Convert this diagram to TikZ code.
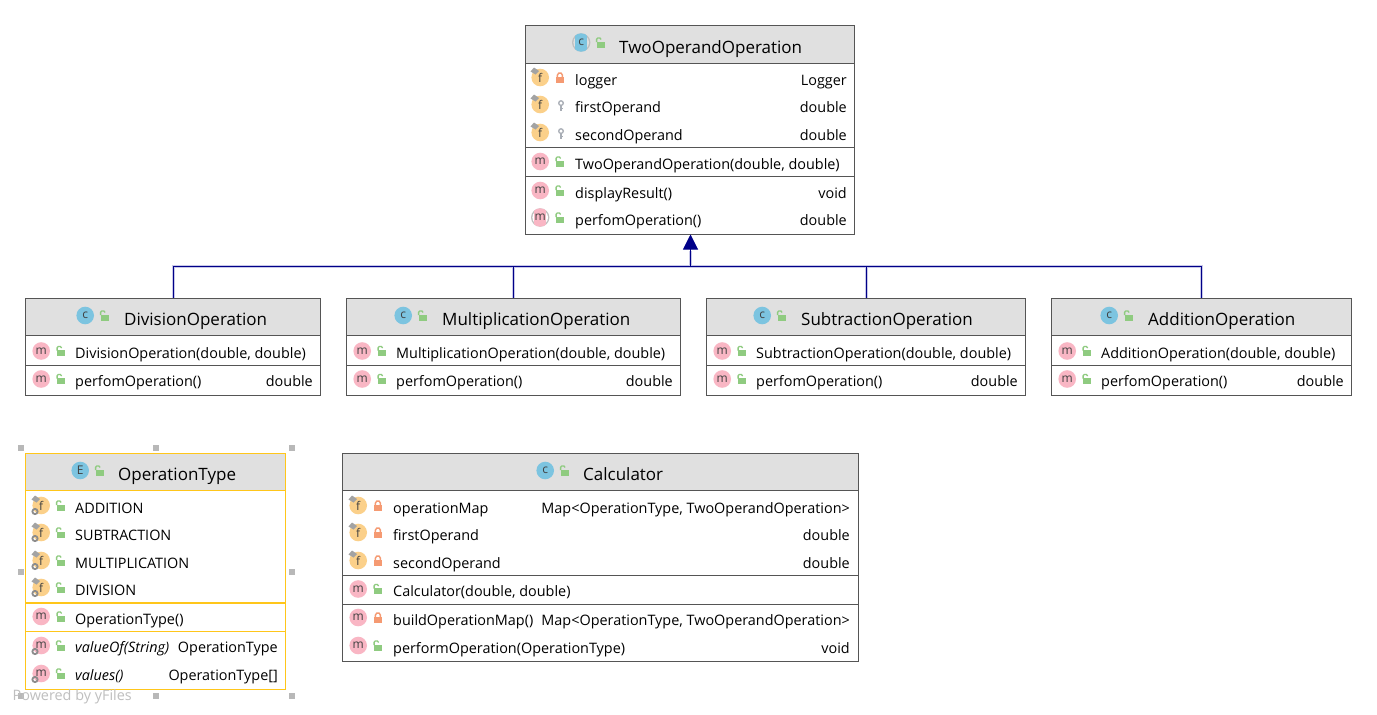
\documentclass[tikz,border=0pt]{standalone}
\usepackage{fontspec}
\setmainfont{Open Sans}
\usetikzlibrary{arrows.meta}
\definecolor{hdr}{HTML}{E0E0E0}
\definecolor{edge}{HTML}{555555}
\definecolor{sel}{HTML}{FFC61A}
\definecolor{icoC}{HTML}{7CC4E0}
\definecolor{icoF}{HTML}{FBD08A}
\definecolor{icoM}{HTML}{F9B6C4}
\definecolor{lockG}{HTML}{8FCB80}
\definecolor{lockR}{HTML}{F59A72}
\definecolor{keyG}{HTML}{A8ADB5}
\definecolor{navyline}{HTML}{000088}
\definecolor{halo}{HTML}{C8C8E8}
\newcounter{tn}
\tikzset{
 x=1pt,y=-1pt,
 classbox/.style={fill=none,line width=1pt,inner sep=0pt,outer sep=0pt},
 bodytxt/.style={inner sep=0pt,anchor=base west,font=\fontsize{14.4}{16}\selectfont,text=black},
 rtxt/.style={inner sep=0pt,anchor=base east,font=\fontsize{14.4}{16}\selectfont,text=black},
 headtxt/.style={inner sep=0pt,anchor=base west,font=\fontsize{17}{20}\selectfont,text=black},
 glyph/.style={inner sep=0pt,font=\fontsize{12}{12}\selectfont,text=black!75},
 handle/.style={fill=black!28,draw=none,minimum size=6pt,inner sep=0pt},
 connector/.style={navyline,line width=1pt},
 connhalo/.style={halo,line width=2.6pt},
}
% box: name, x1, y1, x2, y2, header bottom, colour
\newcommand{\umlbox}[7]{%
 \fill[hdr] (#2,#3) rectangle (#4,#6);
 \node[classbox,draw=#7,minimum width=#4pt-#2pt,minimum height=#5pt-#3pt] (#1) at ({(#2+#4)/2},{(#3+#5)/2}) {};
 \draw[#7,line width=1pt] (#2,#6) -- (#4,#6);
}
\newcommand{\sep}[4]{\draw[#4,line width=1pt] (#1,#3) -- (#2,#3);}
\newcommand{\openlock}[2]{%
 \fill[lockG] ({#1-3.4},{#2-1}) rectangle ({#1+4.8},{#2+5});
 \draw[lockG,line width=1.3pt] ({#1-3.4},{#2-0.5}) -- ({#1-3.4},{#2-3.2}) -- ({#1-2.2},{#2-4.6}) -- ({#1-0.2},{#2-4.6}) -- ({#1+1.2},{#2-3});
}
\newcommand{\closedlock}[2]{%
 \fill[lockR] ({#1-3.6},{#2-0.8}) rectangle ({#1+4.4},{#2+5});
 \draw[lockR,line width=1.4pt] ({#1-2.1},{#2-0.5}) -- ({#1-2.1},{#2-2.4}) -- ({#1-0.8},{#2-4.4}) -- ({#1+1.6},{#2-4.4}) -- ({#1+2.9},{#2-2.4}) -- ({#1+2.9},{#2-0.5});
}
\newcommand{\keyicon}[2]{%
 \draw[keyG,line width=1.3pt] (#1,{#2-2.4}) circle (2.3);
 \draw[keyG,line width=1.4pt] (#1,#2) -- (#1,{#2+5}) (#1,{#2+3}) -- ({#1+2},{#2+3});
}
\newcommand{\pin}[2]{\fill[black!36] ({#1-9},{#2-6}) -- ({#1-5.5},{#2-10}) -- ({#1-0.5},{#2-6.5}) -- ({#1-4},{#2-3}) -- cycle;}
\newcommand{\gear}[2]{\draw[black!45,line width=1.8pt] ({#1-5.5},{#2+6}) circle (2.6);}
\newcommand{\ico}[4]{% colour, letter, x, y
 \stepcounter{tn}%
 \fill[#1] ({#3+0.7},#4) circle (8.8);
 \node[glyph] (g\thetn) at ({#3+0.7},#4) {#2};
}
% abstract variant: gray crescents round a coloured middle band
\newcommand{\absico}[5]{% colour, inner ring colour, x, y, letter
 \stepcounter{tn}%
 \fill[gray!50] ({#3+0.7},#4) circle (9.2);
 \fill[#2] ({#3+0.7},#4) circle (7.8);
 \begin{scope}
  \clip ({#3+0.7},#4) circle (9.2);
  \fill[#1] ({#3-5.3},{#4-10}) rectangle ({#3+6.7},{#4+10});
 \end{scope}
 \node[glyph] (g\thetn) at ({#3+0.7},#4) {#5};
}
\newcommand{\txt}[3]{\stepcounter{tn}\node[bodytxt] (t\thetn) at ({#1+0.5},{#2+6}) {#3};}
\newcommand{\rtx}[3]{\stepcounter{tn}\node[rtxt] (t\thetn) at ({#1+0.5},{#2+6}) {#3};}
\newcommand{\head}[3]{\stepcounter{tn}\node[headtxt] (t\thetn) at ({#1+0.5},{#2+7}) {#3};}
% method row: icon x, icon y, text x, text
\newcommand{\mrow}[4]{\ico{icoM}{m}{#1}{#2}\openlock{#1+20}{#2}\txt{#3}{#2+1.5}{#4}}
% field rows
\newcommand{\frow}[4]{\ico{icoF}{f}{#1}{#2}\pin{#1}{#2}\closedlock{#1+20}{#2}\txt{#3}{#2+2}{#4}}
\newcommand{\krow}[4]{\ico{icoF}{f}{#1}{#2}\pin{#1}{#2}\keyicon{#1+21.5}{#2+1}\txt{#3}{#2+2}{#4}}
\newcommand{\erow}[2]{\ico{icoF}{f}{41}{#1}\pin{41}{#1}\gear{41}{#1}\openlock{60.5}{#1}\txt{75}{#1+2}{#2}}
% small subclass box
\newcommand{\subbox}[5]{% name, x1, x2, title, titlex
 \umlbox{#1}{#2}{298.5}{#3}{396}{336}{edge}
 \sep{#2}{#3}{366}{edge}
 \ico{icoC}{c}{#5-39}{316}
 \openlock{#5-19.5}{316}
 \head{#5}{319}{#4}
 \mrow{#2+15}{351.5}{#2+49}{#4(double, double)}
 \mrow{#2+15}{379.5}{#2+49}{perfomOperation()}
 \rtx{#3-8}{381}{double}
}
\begin{document}
\begin{tikzpicture}
\useasboundingbox (0.5,0.5) rectangle (1377.5,715.5);
\fill[white] (0.5,0.5) rectangle (1377.5,715.5);
% ---- TwoOperandOperation
\umlbox{top}{526}{26}{855}{235}{64}{edge}
\draw[edge,line width=1.5pt] (526,64) -- (855,64);
\draw[edge,line width=1.5pt] (526,148) -- (855,148);
\sep{526}{855}{177}{edge}
\absico{icoC}{hdr}{581}{43}{c}
\openlock{600.5}{43}
\head{619}{47}{TwoOperandOperation}
\frow{540}{78}{575}{logger}\rtx{847}{80}{Logger}
\krow{540}{105}{575}{firstOperand}\rtx{847}{107}{double}
\krow{540}{133}{575}{secondOperand}\rtx{847}{135}{double}
\mrow{540}{162}{575}{TwoOperandOperation(double, double)}
\mrow{540}{191}{575}{displayResult()}\rtx{847}{193}{void}
\absico{icoM}{white}{540}{218}{m}
\openlock{560}{218}\txt{575}{220}{perfomOperation()}\rtx{847}{220}{double}
% ---- subclasses
\subbox{div}{26}{321}{DivisionOperation}{124}
\subbox{mul}{347}{681}{MultiplicationOperation}{442}
\subbox{sub}{707}{1026}{SubtractionOperation}{801}
\subbox{add}{1052}{1352}{AdditionOperation}{1148}
% ---- connectors
\coordinate (bus) at (691,267);
\coordinate (divtop) at ([xshift=0.5pt]div.north);
\coordinate (multop) at (mul.north);
\coordinate (subtop) at ([xshift=0.5pt]sub.north);
\coordinate (addtop) at (add.north);
\coordinate (barrow) at (691,251);
\foreach \c in {divtop,multop,subtop,addtop} \draw[connhalo] (\c) |- (bus);
\draw[connhalo] (bus) -- (barrow);
\foreach \c in {divtop,multop,subtop,addtop} \draw[connector] (\c) |- (bus);
\draw[connector,-{Triangle[length=15pt,width=15pt]}] (bus) -- ([xshift=0.5pt]top.south);
% ---- OperationType
\umlbox{opt}{26}{454}{286}{690}{491}{sel}
\draw[sel,line width=1.3pt] (opt.north west) rectangle (opt.south east);
\draw[sel,line width=1.6pt] (26,603.5) -- (286,603.5);
\sep{26}{286}{632}{sel}
\ico{icoC}{E}{80}{471}
\openlock{99.5}{471}
\head{118}{474}{OperationType}
\erow{506}{ADDITION}
\erow{533}{SUBTRACTION}
\erow{561}{MULTIPLICATION}
\erow{588}{DIVISION}
\mrow{41}{617}{75}{OperationType()}
\ico{icoM}{m}{41}{646}\gear{41}{646}\openlock{60.5}{646}\txt{75}{647}{\itshape valueOf(String)}\rtx{278}{647}{OperationType}
\ico{icoM}{m}{41}{674}\gear{41}{674}\openlock{60.5}{674}\txt{75}{675}{\itshape values()}\rtx{278}{675}{OperationType[]}
% ---- Calculator
\umlbox{calc}{343}{454}{859}{662}{491}{edge}
\sep{343}{859}{576}{edge}
\sep{343}{859}{605}{edge}
\ico{icoC}{c}{545}{471}
\openlock{564.5}{471}
\head{583}{474}{Calculator}
\frow{358}{506}{393}{operationMap}\rtx{850}{508}{Map<OperationType, TwoOperandOperation>}
\frow{358}{533}{393}{firstOperand}\rtx{850}{535}{double}
\frow{358}{561}{393}{secondOperand}\rtx{850}{563}{double}
\mrow{358}{589.5}{393}{Calculator(double, double)}
\ico{icoM}{m}{358}{618}\closedlock{378}{618}\txt{393}{620}{buildOperationMap()}\rtx{850}{620}{Map<OperationType, TwoOperandOperation>}
\mrow{358}{646}{393}{performOperation(OperationType)}\rtx{850}{648}{void}
% ---- selection handles
\foreach \hn/\hx/\hy in {a/21/448,b/156/448,c/292/448,d/21/572,e/292/572,f/21/696,g/156/696,h/292/696}
 \node[handle] (h\hn) at (\hx,\hy) {};
\node[inner sep=0pt,anchor=base west,font=\fontsize{14.4}{16}\selectfont,text=black!25] (yfiles) at (13,701) {Powered by yFiles};
\end{tikzpicture}
\end{document}
